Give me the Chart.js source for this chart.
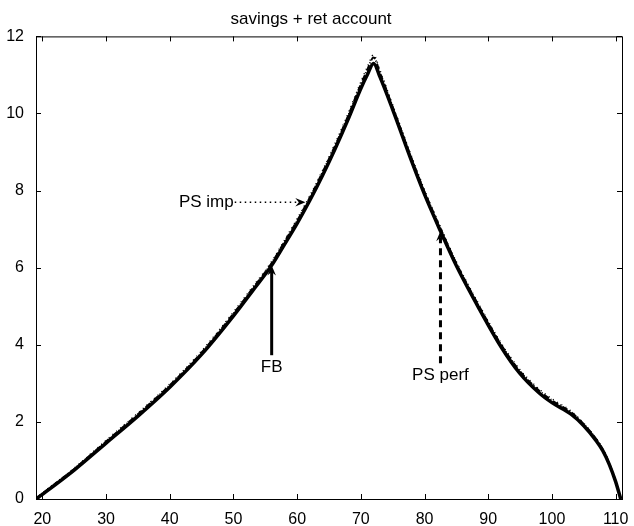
<!DOCTYPE html>
<html>
<head>
<meta charset="utf-8">
<script src="https://cdn.jsdelivr.net/npm/chart.js@4/dist/chart.umd.min.js"></script>
<style>
  html, body { margin: 0; padding: 0; background: #fff; }
  #wrap { width: 634px; height: 526px; }
</style>
</head>
<body>
<div id="wrap"><canvas id="chart" width="634" height="526"></canvas></div>
<script>
// Data -----------------------------------------------------------------------------------

var ages = [19, 20, 25, 30, 35, 40, 45, 50, 53, 56, 58, 60, 62, 64, 66, 68, 70, 71, 72,
            73, 75, 78, 80, 82.5, 85, 88.7, 92, 95, 98, 100, 103, 105, 107, 108, 109, 110, 110.8];

var fbSavings = [0, 0.12, 0.75, 1.45, 2.15, 2.9, 3.75, 4.75, 5.4, 6.06, 6.6, 7.15, 7.75, 8.4, 9.1, 9.85, 10.65, 11.0, 11.3,
                 10.95, 10.1, 8.75, 7.9, 6.95, 6.05, 4.9, 3.95, 3.25, 2.75, 2.5, 2.2, 1.9, 1.5, 1.25, 0.9, 0.45, 0];

var psImpSavings = [0, 0.15, 0.8, 1.52, 2.23, 2.98, 3.84, 4.85, 5.5, 6.16, 6.71, 7.27, 7.87, 8.53, 9.24, 10.0, 10.82, 11.2, 11.52,
                    11.12, 10.22, 8.87, 8.02, 7.06, 6.15, 5.0, 4.05, 3.35, 2.85, 2.6, 2.28, 1.96, 1.56, 1.3, 0.93, 0.46, 0];

var psPerfSavings = [0, 0.14, 0.78, 1.49, 2.2, 2.95, 3.8, 4.81, 5.46, 6.12, 6.67, 7.22, 7.82, 8.48, 9.18, 9.94, 10.76, 11.13, 11.45,
                     11.06, 10.17, 8.82, 7.97, 7.02, 6.11, 4.96, 4.01, 3.31, 2.81, 2.56, 2.25, 1.94, 1.54, 1.28, 0.92, 0.46, 0];

var xTicks = [20, 30, 40, 50, 60, 70, 80, 90, 100, 110];
var yTicks = [0, 2, 4, 6, 8, 10, 12];

var arrowNames = ['PS imp', 'FB', 'PS perf'];
var arrowFromAge = [50.2, 56, 82.5];
var arrowFromValue = [7.7, 3.73, 3.52];
var arrowToAge = [61.3, 56, 82.5];
var arrowToValue = [7.7, 6.06, 6.95];

// Constants ------------------------------------------------------------------------------

var FAMILY = '"Liberation Sans", Arial, Helvetica, sans-serif';
var TICK_FONT = { family: FAMILY, size: 16 };
var TEXT_SIZE = 17;
var TICK_LEN = 5;

// Arrow styles per annotation (dotted, solid, dashed)
var ARROW_DASH = [[1.5, 3.5], [], [7, 5]];
var ARROW_WIDTH = [1.5, 3, 3];

// Plugins --------------------------------------------------------------------------------

var annotationPlugin = {
    id: 'arrows',
    afterDatasetsDraw: function (chart) {
        var ctx = chart.ctx;
        var xs = chart.scales.x, ys = chart.scales.y;
        ctx.save();
        for (var i = 0; i < arrowNames.length; i++) {
            var x0 = xs.getPixelForValue(arrowFromAge[i]);
            var y0 = ys.getPixelForValue(arrowFromValue[i]);
            var x1 = xs.getPixelForValue(arrowToAge[i]);
            var y1 = ys.getPixelForValue(arrowToValue[i]);
            var ang = Math.atan2(y1 - y0, x1 - x0);
            var head = 11;

            // shaft, stopping inside the head
            ctx.beginPath();
            ctx.setLineDash(ARROW_DASH[i]);
            ctx.lineWidth = ARROW_WIDTH[i];
            ctx.strokeStyle = '#000';
            ctx.moveTo(x0, y0);
            ctx.lineTo(x1 - Math.cos(ang) * head * 0.6, y1 - Math.sin(ang) * head * 0.6);
            ctx.stroke();
            ctx.setLineDash([]);

            // head (vback style)
            ctx.beginPath();
            ctx.fillStyle = '#000';
            ctx.moveTo(x1, y1);
            ctx.lineTo(x1 - Math.cos(ang - 0.4) * head, y1 - Math.sin(ang - 0.4) * head);
            ctx.lineTo(x1 - Math.cos(ang) * head * 0.6, y1 - Math.sin(ang) * head * 0.6);
            ctx.lineTo(x1 - Math.cos(ang + 0.4) * head, y1 - Math.sin(ang + 0.4) * head);
            ctx.closePath();
            ctx.fill();

            // label
            ctx.font = TEXT_SIZE + 'px ' + FAMILY;
            ctx.fillStyle = '#000';
            if (y0 === y1) {
                ctx.textAlign = 'right';
                ctx.textBaseline = 'middle';
                ctx.fillText(arrowNames[i], x0 - 1, y0);
            } else {
                ctx.textAlign = 'center';
                ctx.textBaseline = 'top';
                ctx.fillText(arrowNames[i], x0, y0 + 4);
            }
        }
        ctx.restore();
    },
    afterDraw: function (chart) {
        var ctx = chart.ctx;
        var a = chart.chartArea;
        var xs = chart.scales.x, ys = chart.scales.y;
        ctx.save();
        ctx.strokeStyle = '#000';
        ctx.lineWidth = 1;
        ctx.strokeRect(a.left + 0.5, a.top + 0.5, a.right - a.left, a.bottom - a.top);
        ctx.beginPath();
        xTicks.forEach(function (v) {
            var px = Math.round(xs.getPixelForValue(v)) + 0.5;
            ctx.moveTo(px, a.bottom);
            ctx.lineTo(px, a.bottom - TICK_LEN);
            ctx.moveTo(px, a.top);
            ctx.lineTo(px, a.top + TICK_LEN);
        });
        yTicks.forEach(function (v) {
            var py = Math.round(ys.getPixelForValue(v)) + 0.5;
            ctx.moveTo(a.left, py);
            ctx.lineTo(a.left + TICK_LEN, py);
            ctx.moveTo(a.right, py);
            ctx.lineTo(a.right - TICK_LEN, py);
        });
        ctx.stroke();
        ctx.restore();
    }
};

// Chart ----------------------------------------------------------------------------------

function toPoints(values) {
    return ages.map(function (a, i) { return { x: a, y: values[i] }; });
}

function initChart() {
    var context = document.getElementById('chart').getContext('2d');

    new Chart(context, {
        type: 'line',
        data: {
            datasets: [{
                label: 'PS imp',
                data: toPoints(psImpSavings),
                borderColor: '#000',
                borderWidth: 1.5,
                borderDash: [1, 4],
                pointRadius: 0,
                cubicInterpolationMode: 'monotone'
            }, {
                label: 'PS perf',
                data: toPoints(psPerfSavings),
                borderColor: '#000',
                borderWidth: 2,
                borderDash: [6, 2, 1, 2],
                pointRadius: 0,
                cubicInterpolationMode: 'monotone'
            }, {
                label: 'FB',
                data: toPoints(fbSavings),
                borderColor: '#000',
                borderWidth: 3.5,
                pointRadius: 0,
                cubicInterpolationMode: 'monotone'
            }]
        },
        options: {
            responsive: false,
            animation: false,
            layout: { padding: { left: 0, right: 12, top: 0, bottom: 0 } },
            plugins: {
                legend: { display: false },
                tooltip: { enabled: false },
                title: {
                    display: true,
                    text: 'savings + ret account',
                    color: '#000',
                    font: { family: FAMILY, size: 17, weight: 'normal' },
                    padding: { top: 9, bottom: 7 }
                }
            },
            scales: {
                x: {
                    type: 'linear',
                    min: 19,
                    max: 111,
                    grid: { display: false },
                    border: { display: false },
                    ticks: { color: '#000', font: TICK_FONT, padding: 3, maxRotation: 0 },
                    afterBuildTicks: function (scale) {
                        scale.ticks = xTicks.map(function (v) { return { value: v }; });
                    },
                    afterFit: function (scale) { scale.height = 27; }
                },
                y: {
                    min: 0,
                    max: 12,
                    grid: { display: false },
                    border: { display: false },
                    ticks: { color: '#000', font: TICK_FONT, padding: 4 },
                    afterBuildTicks: function (scale) {
                        scale.ticks = yTicks.map(function (v) { return { value: v }; });
                    },
                    afterFit: function (scale) { scale.width = 36; }
                }
            }
        },
        plugins: [annotationPlugin]
    });
}

initChart();
</script>
</body>
</html>
